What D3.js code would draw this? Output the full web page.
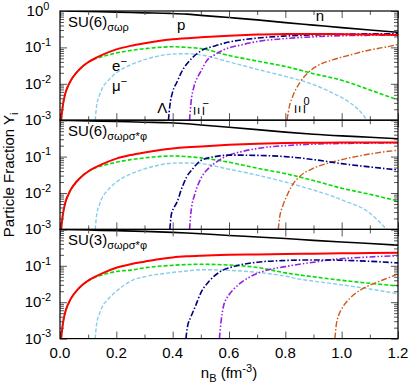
<!DOCTYPE html>
<html>
<head>
<meta charset="utf-8">
<script src="https://cdn.jsdelivr.net/npm/d3@7"></script>
<style>
  body { margin: 0; background: #fff; }
  text { font-family: "Liberation Sans", Arial, sans-serif; fill: #000; }
</style>
</head>
<body>
<svg id="chart" width="417" height="383"></svg>
<script>
// panel titles
const panelNames = ["SU(6)", "SU(6)", "SU(3)"];
const panelSubs = ["σωρ", "σωρσ*φ", "σωρσ*φ"];

const xMajor = [0, 0.2, 0.4, 0.6, 0.8, 1.0, 1.2];
const xMinor = [0.1, 0.3, 0.5, 0.7, 0.9, 1.1];
const yDecades = [1e-3, 1e-2, 1e-1, 1];

// ---- SU(6) sigma omega rho ----
const n1 = [[0,1.0],[0.1,0.965],[0.2,0.93],[0.3,0.89],[0.39,0.86],[0.45,0.82],[0.5,0.76],[0.6,0.66],[0.7,0.57],[0.8,0.48],[0.9,0.41],[1.0,0.35],[1.1,0.3],[1.2,0.26]];
const p1 = [[0.004,0.001],[0.01,0.0025],[0.02,0.0058],[0.03,0.0092],[0.04,0.013],[0.06,0.021],[0.08,0.03],[0.1,0.039],[0.12,0.048],[0.15,0.062],[0.2,0.088],[0.25,0.11],[0.3,0.13],[0.35,0.15],[0.4,0.167],[0.5,0.19],[0.6,0.21],[0.7,0.225],[0.8,0.235],[0.9,0.235],[1.0,0.23],[1.1,0.225],[1.2,0.22]];
const e1 = [[0.004,0.001],[0.01,0.0025],[0.02,0.0058],[0.03,0.0092],[0.04,0.013],[0.06,0.021],[0.08,0.03],[0.1,0.039],[0.12,0.047],[0.15,0.056],[0.2,0.07],[0.25,0.082],[0.3,0.092],[0.35,0.1],[0.4,0.104],[0.45,0.1],[0.5,0.093],[0.6,0.06],[0.7,0.042],[0.8,0.03],[0.9,0.019],[1.0,0.0125],[1.1,0.0068],[1.2,0.0036]];
const mu1 = [[0.125,0.001],[0.13,0.0025],[0.14,0.0048],[0.15,0.0075],[0.17,0.012],[0.2,0.02],[0.25,0.033],[0.3,0.046],[0.35,0.058],[0.4,0.066],[0.45,0.067],[0.5,0.062],[0.6,0.04],[0.7,0.025],[0.8,0.016],[0.9,0.0095],[0.97,0.0055],[1.03,0.003],[1.07,0.0016],[1.09,0.001]];
const lam1 = [[0.385,0.001],[0.39,0.0025],[0.4,0.006],[0.415,0.011],[0.43,0.02],[0.45,0.035],[0.47,0.052],[0.5,0.08],[0.55,0.11],[0.6,0.14],[0.7,0.18],[0.8,0.205],[0.9,0.22],[1.0,0.23],[1.1,0.235],[1.2,0.235]];
const xim1 = [[0.46,0.001],[0.465,0.003],[0.475,0.008],[0.49,0.016],[0.5,0.022],[0.52,0.042],[0.55,0.063],[0.58,0.085],[0.65,0.12],[0.7,0.145],[0.8,0.175],[0.9,0.195],[1.0,0.21],[1.1,0.215],[1.2,0.22]];
const xi01 = [[0.806,0.001],[0.815,0.0025],[0.826,0.0045],[0.852,0.011],[0.88,0.02],[0.91,0.03],[0.97,0.046],[1.03,0.062],[1.1,0.085],[1.15,0.1],[1.2,0.12]];

// ---- SU(6) sigma omega rho sigma* phi ----
const n2 = [[0,1.0],[0.1,0.96],[0.2,0.92],[0.3,0.88],[0.39,0.85],[0.45,0.8],[0.5,0.74],[0.6,0.64],[0.7,0.55],[0.8,0.47],[0.9,0.41],[1.0,0.37],[1.1,0.34],[1.2,0.31]];
const p2 = [[0.004,0.001],[0.01,0.0025],[0.02,0.0058],[0.03,0.0092],[0.04,0.013],[0.06,0.021],[0.08,0.03],[0.1,0.039],[0.12,0.048],[0.15,0.062],[0.2,0.088],[0.25,0.11],[0.3,0.13],[0.35,0.15],[0.4,0.167],[0.45,0.18],[0.5,0.19],[0.6,0.21],[0.7,0.225],[0.8,0.235],[0.9,0.24],[1.0,0.245],[1.1,0.245],[1.2,0.245]];
const e2 = [[0.004,0.001],[0.01,0.0025],[0.02,0.0058],[0.03,0.0092],[0.04,0.013],[0.06,0.021],[0.08,0.03],[0.1,0.039],[0.12,0.047],[0.15,0.056],[0.2,0.07],[0.25,0.082],[0.3,0.092],[0.35,0.1],[0.4,0.104],[0.45,0.1],[0.5,0.092],[0.6,0.07],[0.7,0.048],[0.8,0.034],[0.9,0.022],[1.0,0.0135],[1.1,0.0092],[1.2,0.006]];
const mu2 = [[0.125,0.001],[0.13,0.0025],[0.14,0.0048],[0.15,0.0075],[0.17,0.012],[0.2,0.02],[0.25,0.033],[0.3,0.046],[0.35,0.058],[0.4,0.066],[0.45,0.067],[0.5,0.064],[0.6,0.045],[0.7,0.031],[0.8,0.02],[0.9,0.012],[0.97,0.008],[1.0,0.0065],[1.1,0.0028],[1.16,0.001]];
const lam2 = [[0.39,0.001],[0.395,0.0025],[0.405,0.004],[0.415,0.0055],[0.43,0.012],[0.45,0.028],[0.47,0.045],[0.5,0.078],[0.55,0.1],[0.6,0.11],[0.7,0.108],[0.8,0.1],[0.9,0.083],[1.0,0.064],[1.1,0.052],[1.2,0.043]];
const xim2 = [[0.46,0.001],[0.465,0.003],[0.48,0.01],[0.5,0.025],[0.53,0.05],[0.556,0.072],[0.6,0.11],[0.65,0.14],[0.73,0.18],[0.8,0.2],[0.9,0.22],[1.0,0.23],[1.1,0.235],[1.2,0.24]];
const xi02 = [[0.775,0.001],[0.78,0.0022],[0.79,0.0042],[0.81,0.01],[0.83,0.019],[0.85,0.028],[0.9,0.048],[0.97,0.072],[1.05,0.1],[1.12,0.125],[1.2,0.15]];

// ---- SU(3) sigma omega rho sigma* phi ----
const n3 = [[0,1.0],[0.1,0.96],[0.2,0.92],[0.3,0.88],[0.4,0.83],[0.45,0.8],[0.5,0.76],[0.6,0.68],[0.7,0.62],[0.8,0.56],[0.9,0.5],[1.0,0.45],[1.1,0.41],[1.2,0.37]];
const p3 = [[0.004,0.001],[0.01,0.0025],[0.02,0.0058],[0.03,0.0092],[0.04,0.013],[0.06,0.021],[0.08,0.03],[0.1,0.039],[0.12,0.048],[0.15,0.062],[0.2,0.088],[0.25,0.11],[0.3,0.13],[0.35,0.152],[0.4,0.17],[0.45,0.182],[0.5,0.19],[0.6,0.2],[0.7,0.205],[0.8,0.21],[0.9,0.215],[1.0,0.22],[1.1,0.225],[1.2,0.23]];
const e3 = [[0.004,0.001],[0.01,0.0025],[0.02,0.0058],[0.03,0.0092],[0.04,0.013],[0.06,0.021],[0.08,0.03],[0.1,0.039],[0.12,0.047],[0.15,0.056],[0.2,0.07],[0.25,0.076],[0.3,0.088],[0.35,0.097],[0.4,0.103],[0.45,0.108],[0.5,0.11],[0.6,0.105],[0.7,0.09],[0.8,0.064],[0.85,0.056],[0.9,0.05],[1.0,0.04],[1.1,0.033],[1.2,0.028]];
const mu3 = [[0.125,0.001],[0.13,0.0025],[0.14,0.0048],[0.15,0.0075],[0.17,0.012],[0.2,0.02],[0.26,0.041],[0.3,0.05],[0.38,0.063],[0.45,0.072],[0.5,0.078],[0.6,0.075],[0.7,0.066],[0.8,0.052],[0.85,0.043],[0.9,0.038],[1.0,0.03],[1.1,0.023],[1.2,0.017]];
const lam3 = [[0.447,0.001],[0.452,0.002],[0.465,0.004],[0.48,0.0075],[0.5,0.018],[0.53,0.038],[0.57,0.07],[0.615,0.095],[0.7,0.125],[0.8,0.14],[0.9,0.145],[1.0,0.142],[1.1,0.133],[1.2,0.12]];
const xim3 = [[0.566,0.001],[0.572,0.003],[0.58,0.0075],[0.6,0.016],[0.615,0.022],[0.65,0.038],[0.675,0.05],[0.73,0.074],[0.8,0.095],[0.85,0.11],[0.9,0.125],[0.97,0.15],[1.1,0.175],[1.2,0.19]];
const xi03 = [[0.976,0.001],[0.98,0.0021],[0.99,0.0045],[1.0,0.0065],[1.03,0.013],[1.06,0.02],[1.09,0.027],[1.15,0.042],[1.2,0.06]];

// line styles for each particle, drawn in this order
const styles = [
  {key: "mu", color: "#87ceeb", width: 1.4, dash: "4,2"},
  {key: "e", color: "#00e000", width: 1.6, dash: "4,2"},
  {key: "xi0", color: "#cc5a1a", width: 1.4, dash: "6,2,1.5,2"},
  {key: "xim", color: "#9a1ee0", width: 1.6, dash: "6,2,1.5,2,1.5,2"},
  {key: "lam", color: "#000080", width: 1.6, dash: "6,2,1.5,2"},
  {key: "p", color: "#ff0000", width: 2, dash: null},
  {key: "n", color: "#000000", width: 1.6, dash: null}
];
const panelData = [
  {n: n1, p: p1, e: e1, mu: mu1, lam: lam1, xim: xim1, xi0: xi01},
  {n: n2, p: p2, e: e2, mu: mu2, lam: lam2, xim: xim2, xi0: xi02},
  {n: n3, p: p3, e: e3, mu: mu3, lam: lam3, xim: xim3, xi0: xi03}
];

const svg = d3.select("#chart");
const left = 60, right = 398, top0 = 11, panelH = 109.2;

const x = d3.scaleLinear().domain([0, 1.2]).range([left, right]);

function sup(sel, base, exp, size, supSize) {
  sel.append("tspan").attr("font-size", size).text(base);
  sel.append("tspan").attr("font-size", supSize).attr("dy", -size * 0.42).text(exp);
}

panelData.forEach((d, i) => {
  const yTop = top0 + i * panelH, yBot = yTop + panelH;
  const y = d3.scaleLog().domain([1e-3, 1]).range([yBot, yTop]);
  const g = svg.append("g");

  const clipId = "clip" + i;
  svg.append("clipPath").attr("id", clipId)
    .append("rect").attr("x", left).attr("y", yTop).attr("width", right - left).attr("height", panelH);

  // curves
  const line = d3.line().x(v => x(v[0])).y(v => y(v[1])).curve(d3.curveMonotoneX);
  const cg = g.append("g").attr("clip-path", `url(#${clipId})`);
  styles.forEach(s => {
    cg.append("path")
      .attr("d", line(d[s.key]))
      .attr("fill", "none")
      .attr("stroke", s.color)
      .attr("stroke-width", s.width)
      .attr("stroke-dasharray", s.dash);
  });

  // ticks (inside) via d3 axes
  const minorY = [];
  [1e-3, 1e-2, 1e-1].forEach(dec => { for (let m = 2; m <= 9; m++) minorY.push(dec * m); });
  const tickStyle = a => a.call(s => s.select(".domain").remove())
    .call(s => s.selectAll(".tick line").attr("stroke", "#555").attr("stroke-width", 1));

  g.append("g").attr("transform", `translate(0,${yBot})`)
    .call(d3.axisBottom(x).tickValues(xMajor).tickSize(-7).tickFormat("")).call(tickStyle);
  g.append("g").attr("transform", `translate(0,${yBot})`)
    .call(d3.axisBottom(x).tickValues(xMinor).tickSize(-4).tickFormat("")).call(tickStyle);
  g.append("g").attr("transform", `translate(0,${yTop})`)
    .call(d3.axisTop(x).tickValues(xMajor).tickSize(-7).tickFormat("")).call(tickStyle);
  g.append("g").attr("transform", `translate(0,${yTop})`)
    .call(d3.axisTop(x).tickValues(xMinor).tickSize(-4).tickFormat("")).call(tickStyle);
  g.append("g").attr("transform", `translate(${left},0)`)
    .call(d3.axisLeft(y).tickValues(yDecades).tickSize(-7).tickFormat("")).call(tickStyle);
  g.append("g").attr("transform", `translate(${left},0)`)
    .call(d3.axisLeft(y).tickValues(minorY).tickSize(-4).tickFormat("")).call(tickStyle);
  g.append("g").attr("transform", `translate(${right},0)`)
    .call(d3.axisRight(y).tickValues(yDecades).tickSize(-7).tickFormat("")).call(tickStyle);
  g.append("g").attr("transform", `translate(${right},0)`)
    .call(d3.axisRight(y).tickValues(minorY).tickSize(-4).tickFormat("")).call(tickStyle);

  // frame
  g.append("rect").attr("x", left).attr("y", yTop).attr("width", right - left).attr("height", panelH)
    .attr("fill", "none").attr("stroke", "#000").attr("stroke-width", 1.2);

  // y tick labels
  const labs = i === 0 ? yDecades : yDecades.slice(0, 3);
  labs.forEach(v => {
    const t = g.append("text").attr("x", 38).attr("y", y(v) + 5).attr("text-anchor", "middle");
    sup(t, "10", v === 1 ? "0" : String(Math.round(Math.log10(v))), 15, 11);
  });

  // panel name
  const pt = g.append("text").attr("x", 68).attr("y", yTop + 16);
  pt.append("tspan").attr("font-size", 15).text(panelNames[i]);
  pt.append("tspan").attr("font-size", 11).attr("dy", 4).text(panelSubs[i]);
});

// particle labels in first panel
const yl = d3.scaleLog().domain([1e-3, 1]).range([top0 + panelH, top0]);
svg.append("text").attr("x", x(0.415)).attr("y", yl(0.3)).attr("font-size", 15).text("p");
svg.append("text").attr("x", x(0.908)).attr("y", yl(0.52)).attr("font-size", 15).text("n");
const te = svg.append("text").attr("x", x(0.185)).attr("y", yl(0.022));
sup(te, "e", "−", 15, 11);
const tm = svg.append("text").attr("x", x(0.185)).attr("y", yl(0.0063));
sup(tm, "μ", "−", 15, 11);
svg.append("text").attr("x", x(0.345)).attr("y", yl(0.0016)).attr("font-size", 15).text("Λ");

// rotated Xi glyphs with upright superscripts
function xiLabel(nb, yv, exp) {
  const cx = x(nb), cy = yl(yv);
  svg.append("text").attr("transform", `translate(${cx},${cy}) rotate(-90)`)
    .attr("text-anchor", "middle").attr("dominant-baseline", "central")
    .attr("font-size", 15).text("Ξ");
  svg.append("text").attr("x", cx + 4).attr("y", cy - 4).attr("font-size", 11).text(exp);
}
xiLabel(0.492, 0.0018, "−");
xiLabel(0.85, 0.002, "0");

// x tick labels
const xb = top0 + 3 * panelH;
xMajor.forEach(v => {
  svg.append("text").attr("x", x(v)).attr("y", xb + 19).attr("text-anchor", "middle")
    .attr("font-size", 15).text(v.toFixed(1));
});

// axis titles
const xt = svg.append("text").attr("x", x(0.6)).attr("y", 378).attr("text-anchor", "middle");
xt.append("tspan").attr("font-size", 15).text("n");
xt.append("tspan").attr("font-size", 11).attr("dy", 4).text("B");
xt.append("tspan").attr("font-size", 15).attr("dy", -4).text(" (fm");
xt.append("tspan").attr("font-size", 11).attr("dy", -6).text("-3");
xt.append("tspan").attr("font-size", 15).attr("dy", 6).text(")");

const yt = svg.append("text").attr("transform", `translate(14,${top0 + 1.5 * panelH}) rotate(-90)`)
  .attr("text-anchor", "middle");
yt.append("tspan").attr("font-size", 15).text("Particle Fraction Y");
yt.append("tspan").attr("font-size", 11).attr("dy", 4).text("i");
</script>
</body>
</html>
